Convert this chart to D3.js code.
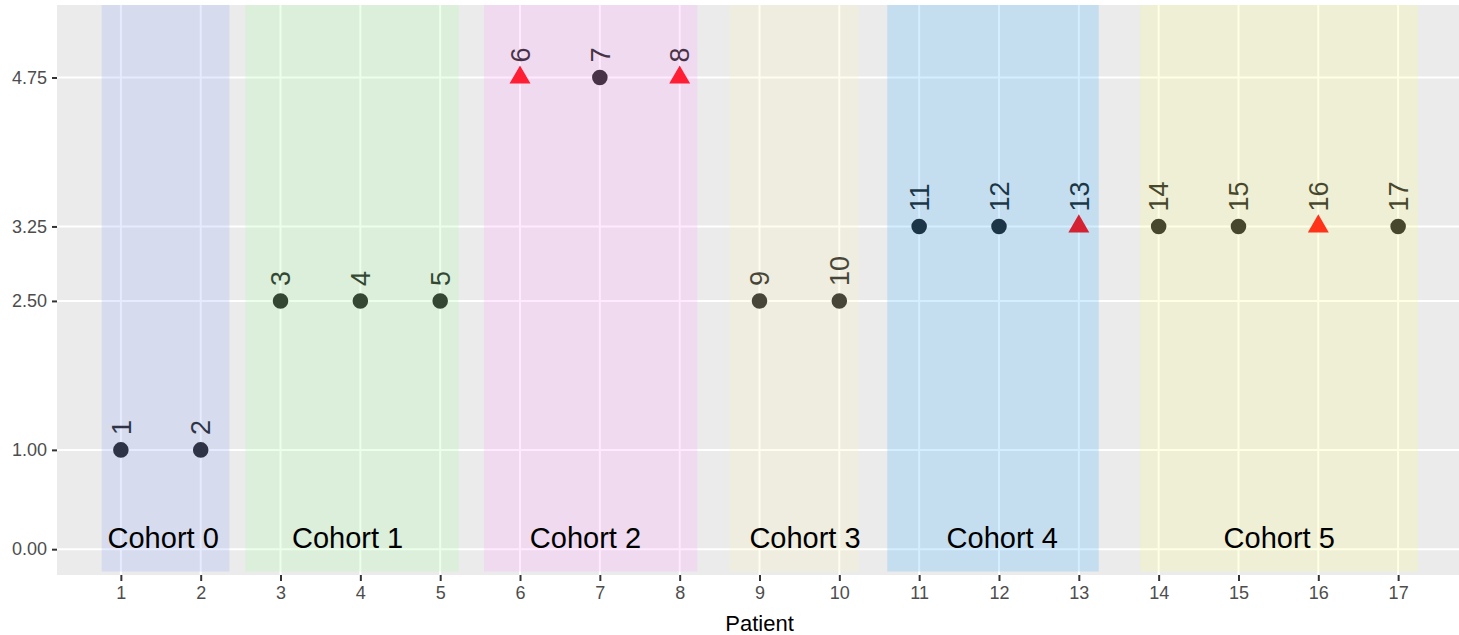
<!DOCTYPE html>
<html>
<head>
<meta charset="utf-8">
<script src="https://cdn.jsdelivr.net/npm/d3@7"></script>
<style>
  body { margin: 0; background: #fff; }
  text { font-family: "Liberation Sans", Arial, sans-serif; }
</style>
</head>
<body>
<div id="chart"></div>
<script>
// patient values
const patients = d3.range(1, 18);
const values = [1, 1, 2.5, 2.5, 2.5, 4.75, 4.75, 4.75, 2.5, 2.5, 3.25, 3.25, 3.25, 3.25, 3.25, 3.25, 3.25];
const shapes = ["circle", "circle", "circle", "circle", "circle", "triangle", "circle", "triangle", "circle", "circle",
                "circle", "circle", "triangle", "circle", "circle", "triangle", "circle"];

// cohort bands
const cohorts = ["Cohort 0", "Cohort 1", "Cohort 2", "Cohort 3", "Cohort 4", "Cohort 5"];
const cohortStart = [0.76, 2.56, 5.55, 8.62, 10.6, 13.77];
const cohortEnd = [2.36, 5.23, 8.22, 10.24, 13.25, 17.25];
const cohortLabelX = [1.53, 3.84, 6.82, 9.57, 12.04, 15.51];
const cohortColors = ["#82a0fa", "#9bff9b", "#ff96ff", "#fff5af", "#2daaff", "#ffff7d"];

const yTicks = [0, 1, 2.5, 3.25, 4.75];

const W = 1459, H = 635;
const margin = { top: 5, left: 57, bottom: 60 };

const svg = d3.select("#chart").append("svg")
    .attr("width", W)
    .attr("height", H);

const x = d3.scaleLinear()
    .domain([0.2, 17.8])
    .range([margin.left, 1462]);

const y = d3.scaleLinear()
    .domain([-0.26, 5.48])
    .range([H - margin.bottom, margin.top]);

// panel
svg.append("rect")
    .attr("x", x(0.2))
    .attr("y", y(5.48))
    .attr("width", x(17.8) - x(0.2))
    .attr("height", y(-0.26) - y(5.48))
    .attr("fill", "#ebebeb");

// grid lines
svg.append("g").selectAll("line")
    .data(yTicks)
    .join("line")
    .attr("x1", x(0.2)).attr("x2", x(17.8))
    .attr("y1", d => y(d)).attr("y2", d => y(d))
    .attr("stroke", "#fff").attr("stroke-width", 2);

svg.append("g").selectAll("line")
    .data(patients)
    .join("line")
    .attr("x1", d => x(d)).attr("x2", d => x(d))
    .attr("y1", y(-0.26)).attr("y2", y(5.48))
    .attr("stroke", "#fff").attr("stroke-width", 2);

const pts = patients.map((p, i) => ({ p: p, v: values[i], s: shapes[i] }));

// point labels
svg.append("g").selectAll("text")
    .data(pts)
    .join("text")
    .attr("transform", d => "translate(" + x(d.p) + "," + (y(d.v) - 15) + ") rotate(-90)")
    .attr("dy", "0.36em")
    .attr("font-size", 27)
    .attr("fill", "#1a1a1a")
    .text(d => d.p);

// points
svg.append("g").selectAll("path")
    .data(pts)
    .join("path")
    .attr("transform", d => "translate(" + x(d.p) + "," + y(d.v) + ")")
    .attr("d", d => d3.symbol()
        .type(d.s === "triangle" ? d3.symbolTriangle : d3.symbolCircle)
        .size(d.s === "triangle" ? 190 : 190)())
    .attr("fill", d => d.s === "triangle" ? "#ff0000" : "#1a1a1a");

// cohort bands drawn over everything with transparency
svg.append("g").selectAll("rect")
    .data(cohorts)
    .join("rect")
    .attr("x", (d, i) => x(cohortStart[i]))
    .attr("width", (d, i) => x(cohortEnd[i]) - x(cohortStart[i]))
    .attr("y", y(5.48))
    .attr("height", y(-0.225) - y(5.48))
    .attr("fill", (d, i) => cohortColors[i])
    .attr("fill-opacity", 0.2);

svg.append("g").selectAll("text")
    .data(cohorts)
    .join("text")
    .attr("x", (d, i) => x(cohortLabelX[i]))
    .attr("y", y(0) - 1)
    .attr("text-anchor", "middle")
    .attr("font-size", 29)
    .attr("fill", "#000")
    .text(d => d);

// axes
const yAxis = svg.append("g")
    .attr("transform", "translate(" + x(0.2) + ",0)")
    .call(d3.axisLeft(y).tickValues(yTicks).tickFormat(d3.format(".2f")).tickSize(5).tickPadding(5));

const xAxis = svg.append("g")
    .attr("transform", "translate(0," + y(-0.26) + ")")
    .call(d3.axisBottom(x).tickValues(patients).tickFormat(d3.format("d")).tickSize(6).tickPadding(5));

[yAxis, xAxis].forEach(a => {
    a.select(".domain").remove();
    a.selectAll(".tick line").attr("stroke", "#333").attr("stroke-width", 2);
    a.selectAll(".tick text").attr("fill", "#4d4d4d").attr("font-size", 18)
        .style("font-family", "'Liberation Sans', Arial, sans-serif");
});

svg.append("text")
    .attr("x", (x(0.2) + x(17.8)) / 2)
    .attr("y", 631)
    .attr("text-anchor", "middle")
    .attr("font-size", 22)
    .attr("fill", "#000")
    .text("Patient");
</script>
</body>
</html>
